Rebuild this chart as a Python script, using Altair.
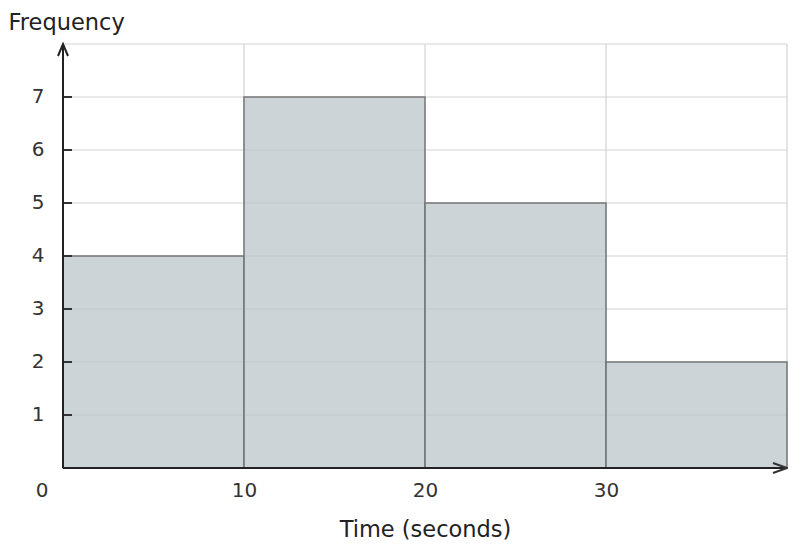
import altair as alt
import pandas as pd

bin_start = [0, 10, 20, 30]
bin_end = [10, 20, 30, 40]
freq = [4, 7, 5, 2]
x_tick_labels = [10, 20, 30]
y_tick_labels = [1, 2, 3, 4, 5, 6, 7]
x_grid = [10, 20, 30, 40]
y_grid = [1, 2, 3, 4, 5, 6, 7, 8]
x_max = 40
y_max = 8

FONT = "DejaVu Sans"
xs = alt.Scale(domain=[0, x_max], nice=False, zero=True)
ys = alt.Scale(domain=[0, y_max], nice=False, zero=True)

xaxis = alt.Axis(values=x_tick_labels, domain=False, ticks=False, grid=False,
                 labelFontSize=20, labelColor="#333", labelPadding=12, labelFont=FONT,
                 title="Time (seconds)", titleFontSize=22.5, titleFontWeight="normal",
                 titleColor="#222", titleFont=FONT, titleY=68, titleBaseline="alphabetic")
yaxis = alt.Axis(values=y_tick_labels, domain=False, ticks=False, grid=False,
                 labelFontSize=20, labelColor="#333", labelPadding=19, labelFont=FONT,
                 labelOffset=-1,
                 title="Frequency", titleAngle=0, titleX=-55, titleY=-15, titleAlign="left",
                 titleBaseline="alphabetic", titleFontSize=22.5, titleFontWeight="normal",
                 titleColor="#222", titleFont=FONT)


def X(f):
    return alt.X(f, type="quantitative", scale=xs, axis=xaxis)


def Y(f):
    return alt.Y(f, type="quantitative", scale=ys, axis=yaxis)


bars_df = pd.DataFrame({"start": bin_start, "end": bin_end, "freq": freq, "zero": [0] * 4})
vg_df = pd.DataFrame({"x": x_grid, "y0": [0] * len(x_grid), "y1": [y_max] * len(x_grid)})
hg_df = pd.DataFrame({"y": y_grid, "x0": [0] * len(y_grid), "x1": [x_max] * len(y_grid)})
yt_df = pd.DataFrame({"y": y_tick_labels})
ax_df = pd.DataFrame({"x0": [0], "x1": [x_max], "y0": [0], "y1": [y_max]})
zero_df = pd.DataFrame({"x": [0], "y": [0], "t": ["0"]})

vgrid = alt.Chart(vg_df).mark_rule(color="#d4d4d4", strokeWidth=1.2).encode(
    x=X("x"), y=Y("y0"), y2="y1")
hgrid = alt.Chart(hg_df).mark_rule(color="#d4d4d4", strokeWidth=1.2).encode(
    y=Y("y"), x=X("x0"), x2="x1")
bars = alt.Chart(bars_df).mark_rect(fill="#b9c3c8", fillOpacity=0.72, stroke="#777777",
                                    strokeWidth=1.5).encode(
    x=X("start"), x2="end", y=Y("zero"), y2="freq")
yticks = alt.Chart(yt_df).mark_rule(color="#333", strokeWidth=2).encode(
    y=Y("y"), x=alt.value(0), x2=alt.value(9))
yline = alt.Chart(ax_df).mark_rule(color="#222", strokeWidth=2).encode(
    x=X("x0"), y=Y("y0"), y2="y1")
xline = alt.Chart(ax_df).mark_rule(color="#222", strokeWidth=2).encode(
    x=X("x0"), x2="x1", y=Y("y0"))
up_arrow = alt.Chart(ax_df).mark_point(shape="M-0.5,1.2L0,0L0.5,1.2", size=400, filled=False,
                                       stroke="#222", strokeWidth=2, opacity=1).encode(
    x=X("x0"), y=Y("y1"))
right_arrow = alt.Chart(ax_df).mark_point(shape="M-1.4,-0.5L0,0L-1.4,0.5", size=400, filled=False,
                                          stroke="#333", strokeWidth=2, opacity=1).encode(
    x=X("x1"), y=Y("y0"))
zero_lbl = alt.Chart(zero_df).mark_text(font=FONT, fontSize=20, color="#333", dx=-21, dy=13,
                                        baseline="top", align="center").encode(
    x=X("x"), y=Y("y"), text="t")

chart = alt.layer(vgrid, hgrid, bars, yticks, yline, xline, up_arrow, right_arrow, zero_lbl).properties(
    width=724, height=424,
    autosize=alt.AutoSizeParams(type="none"),
    padding={"left": 55, "top": 36, "right": 1, "bottom": 72},
).configure_view(stroke=None)

chart.save("out.html", embed_options={"renderer": "svg", "actions": False})
